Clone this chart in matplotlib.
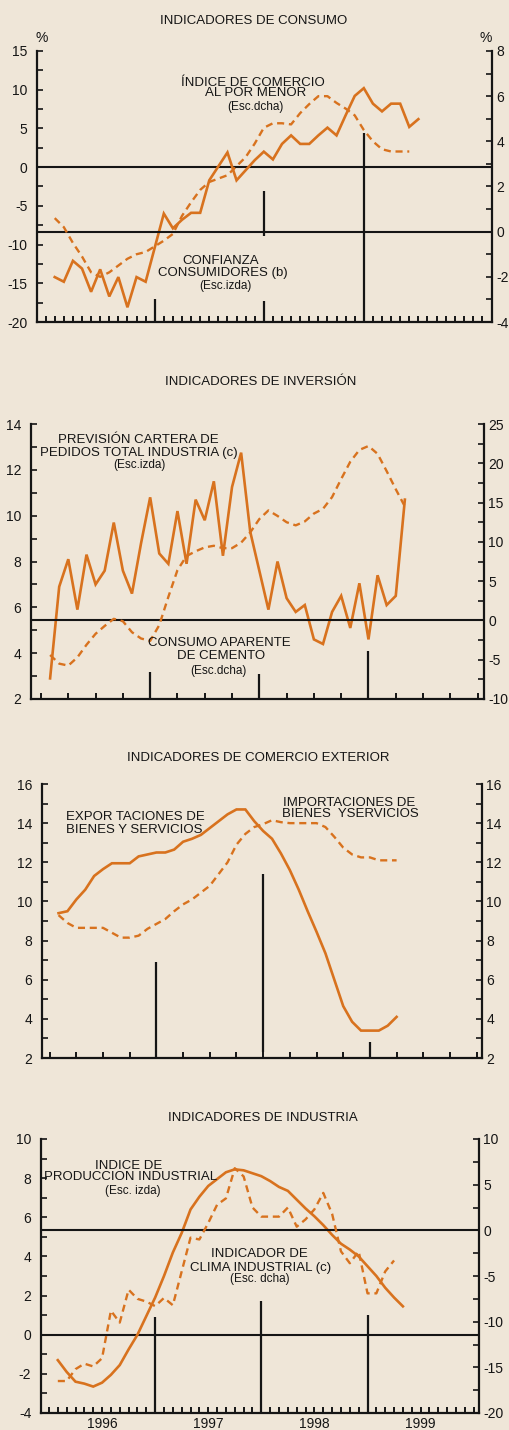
import numpy as np
import matplotlib.pyplot as plt
from matplotlib.ticker import MultipleLocator

plt.rcParams['font.family'] = ['Liberation Sans Narrow', 'Liberation Sans', 'DejaVu Sans']
plt.rcParams['axes.unicode_minus'] = False

FONDO = '#EFE6D8'
NARANJA = '#D8721E'
NEGRO = '#151515'

# ---- datos mensuales (x = meses desde enero de 1996) ----
# indicadores de consumo
confianza = [-14.2, -14.8, -12.1, -13.1, -16.1, -13.2, -16.7, -14.2, -18.1, -14.2,
             -14.8, -10.4, -6.0, -7.9, -6.8, -5.9, -5.9, -1.7, 0.1, 1.9,
             -1.7, -0.4, 0.9, 2.0, 1.0, 3.0, 4.1, 3.0, 3.0, 4.1,
             5.1, 4.1, 6.7, 9.2, 10.2, 8.2, 7.2, 8.2, 8.2, 5.2, 6.2]
comercio_menor = [0.6, 0.2, -0.5, -1.1, -1.8, -2.0, -1.8, -1.5, -1.2, -1.0,
                  -0.9, -0.65, -0.4, -0.1, 0.7, 1.3, 1.85, 2.2, 2.35, 2.5,
                  2.9, 3.3, 3.9, 4.6, 4.8, 4.8, 4.75, 5.25, 5.65, 6.0,
                  6.0, 5.7, 5.45, 5.15, 4.5, 4.0, 3.65, 3.55, 3.55, 3.55]
# indicadores de inversion
cartera_pedidos = [2.9, 6.9, 8.1, 5.9, 8.3, 7.0, 7.6, 9.7, 7.6, 6.6,
                   8.8, 10.8, 8.35, 7.9, 10.2, 7.9, 10.7, 9.8, 11.5, 8.25,
                   11.25, 12.75, 9.3, 7.6, 5.9, 8.0, 6.4, 5.8, 6.1, 4.6,
                   4.4, 5.8, 6.5, 5.1, 7.05, 4.6, 7.4, 6.1, 6.5, 10.7]
cemento = [-4.4, -5.5, -5.75, -4.7, -3.1, -1.7, -0.7, 0.2, -0.1, -1.5,
           -2.3, -2.6, -0.6, 3.0, 6.4, 8.2, 8.8, 9.3, 9.5, 9.2,
           9.2, 9.9, 11.2, 12.9, 14.0, 13.3, 12.5, 12.1, 12.6, 13.6,
           14.2, 15.7, 18.0, 20.2, 21.7, 22.2, 21.2, 19.0, 16.7, 14.5]
# indicadores de comercio exterior
exportaciones = [9.4, 9.5, 10.1, 10.6, 11.3, 11.65, 11.95, 11.95, 11.95, 12.3,
                 12.4, 12.5, 12.5, 12.65, 13.05, 13.2, 13.4, 13.75, 14.1, 14.45,
                 14.7, 14.7, 14.1, 13.6, 13.2, 12.45, 11.6, 10.6, 9.5, 8.45,
                 7.35, 6.0, 4.65, 3.85, 3.4, 3.4, 3.4, 3.65, 4.1]
importaciones = [9.3, 8.9, 8.65, 8.65, 8.65, 8.65, 8.4, 8.15, 8.15, 8.25,
                 8.6, 8.85, 9.1, 9.5, 9.85, 10.1, 10.45, 10.8, 11.4, 12.0,
                 12.9, 13.45, 13.8, 13.95, 14.15, 14.05, 14.0, 14.0, 14.0, 14.0,
                 13.8, 13.3, 12.75, 12.4, 12.25, 12.25, 12.1, 12.1, 12.1]
# indicadores de industria
produccion_ind = [-1.3, -1.9, -2.4, -2.5, -2.65, -2.45, -2.05, -1.55, -0.75, 0.0,
                  0.95, 1.9, 3.0, 4.2, 5.2, 6.4, 7.05, 7.6, 7.95, 8.3,
                  8.45, 8.4, 8.25, 8.1, 7.85, 7.55, 7.35, 6.9, 6.45, 6.05,
                  5.6, 5.1, 4.65, 4.35, 4.0, 3.5, 3.0, 2.4, 1.9, 1.45]
clima_ind = [-16.5, -16.5, -15.2, -14.6, -14.9, -14.0, -8.8, -10.1, -6.5, -7.5,
             -7.8, -8.3, -7.4, -8.2, -4.5, -0.8, -1.0, 0.8, 2.8, 3.5,
             6.8, 5.9, 2.5, 1.5, 1.5, 1.5, 2.5, 0.4, 1.2, 2.3,
             4.1, 1.8, -2.3, -3.6, -2.3, -6.9, -6.9, -4.5, -3.3]

anios = ['1996', '1997', '1998', '1999']

# separadores de año: (mes, desde, hasta) en escala izquierda
sep_consumo = [(12, -20, -17.0), (24, -20, -17.3), (24, -8.95, -3.1), (35, -20, 4.4)]
sep_inversion = [(12, 2, 3.2), (24, 2, 3.1), (36, 2, 4.1)]
sep_exterior = [(12, 2, 6.9), (24, 2.3, 11.4), (36, 2, 2.8)]
sep_industria = [(12, -4, 0.9), (24, -4, 1.7), (36, -4, 1.0)]

W, H = 509, 1430
fig = plt.figure(figsize=(W / 100, H / 100), dpi=100)
fig.patch.set_facecolor(FONDO)


def rect(x0, x1, y0, y1):
    # pixeles -> fraccion de figura
    return [x0 / W, 1 - y1 / H, (x1 - x0) / W, (y1 - y0) / H]


def texto(x, y, s, size=9, **kw):
    fig.text(x / W, 1 - y / H, s, fontsize=size, color=NEGRO,
             ha=kw.pop('ha', 'center'), va='center', **kw)


def panel(r, xlim, ylim1, ylim2, paso1, menor1, paso2, menor2, paso_x):
    ax = fig.add_axes(r)
    ax.set_facecolor('none')
    ax2 = ax.twinx()
    ax.set_xlim(*xlim)
    ax.set_ylim(*ylim1)
    ax2.set_ylim(*ylim2)
    ax.yaxis.set_major_locator(MultipleLocator(paso1))
    ax.yaxis.set_minor_locator(MultipleLocator(menor1))
    ax2.yaxis.set_major_locator(MultipleLocator(paso2))
    ax2.yaxis.set_minor_locator(MultipleLocator(menor2))
    ax.set_xticks(np.arange(0, 49, paso_x))
    ax.tick_params(axis='x', direction='in', length=4, width=1.4,
                   labelbottom=False, color=NEGRO)
    ax.tick_params(axis='y', which='both', direction='in', length=4, width=1.2,
                   labelsize=10, pad=7, color=NEGRO, labelcolor=NEGRO)
    ax2.tick_params(axis='y', which='both', direction='in', length=4, width=1.2,
                    labelsize=10, pad=3, color=NEGRO, labelcolor=NEGRO)
    for a in (ax, ax2):
        a.spines['top'].set_visible(False)
        for s in a.spines.values():
            s.set_linewidth(1.6)
            s.set_color(NEGRO)
    ax.spines['right'].set_visible(False)
    ax2.spines['left'].set_visible(False)
    ax2.spines['bottom'].set_visible(False)
    return ax, ax2


def separadores(ax, lista):
    for x, y0, y1 in lista:
        ax.vlines(x, y0, y1, color=NEGRO, lw=1.6, zorder=3)


def series(ax, ax2, izq, dcha):
    x1 = np.arange(1, len(izq) + 1)
    x2 = np.arange(1, len(dcha) + 1)
    ax.plot(x1, izq, color=NARANJA, lw=1.9, zorder=5, solid_joinstyle='miter')
    ax2.plot(x2, dcha, color=NARANJA, lw=1.7, ls=(0, (3, 2)), zorder=5)


# ---------------- INDICADORES DE CONSUMO ----------------
ax, ax2 = panel(rect(37, 492, 51, 322), (-0.95, 49.1), (-20, 15), (-4, 8),
                5, 2.5, 2, 1, 1)
ax.axhline(0, color=NEGRO, lw=1.5)
ax2.axhline(0, color=NEGRO, lw=1.5)
separadores(ax, sep_consumo)
series(ax, ax2, confianza, comercio_menor)
texto(254, 21, 'INDICADORES DE CONSUMO', 9.5)
texto(42, 38, '%', 10)
texto(486, 38, '%', 10)
texto(253, 83, 'ÍNDICE DE COMERCIO', 9.5)
texto(256, 93, 'AL POR MENOR', 9.5)
texto(255, 107, '(Esc.dcha)', 8.5)
texto(221, 261, 'CONFIANZA', 9.5)
texto(223, 273, 'CONSUMIDORES (b)', 9.5)
texto(225, 286, '(Esc.izda)', 8.5)

# ---------------- INDICADORES DE INVERSIÓN ----------------
ax, ax2 = panel(rect(31, 484, 424, 699), (-1.1, 48.7), (2, 14), (-10, 25),
                2, 1, 5, 2.5, 3)
ax2.axhline(0, color=NEGRO, lw=1.5)
separadores(ax, sep_inversion)
series(ax, ax2, cartera_pedidos, cemento)
texto(261, 382, 'INDICADORES DE INVERSIÓN', 9.5)
texto(138, 440, 'PREVISIÓN CARTERA DE', 9.5)
texto(139, 453, 'PEDIDOS TOTAL INDUSTRIA (c)', 9.5)
texto(139, 465, '(Esc.izda)', 8.5)
texto(219, 643, 'CONSUMO APARENTE', 9.5)
texto(221, 656, 'DE CEMENTO', 9.5)
texto(218, 671, '(Esc.dcha)', 8.5)

# ---------------- INDICADORES DE COMERCIO EXTERIOR ----------------
ax, ax2 = panel(rect(42, 482, 784, 1058), (-0.86, 48.6), (2, 16), (2, 16),
                2, 1, 2, 1, 3)
separadores(ax, sep_exterior)
series(ax, ax2, exportaciones, importaciones)
texto(258, 758, 'INDICADORES DE COMERCIO EXTERIOR', 9.5)
texto(66, 817, 'EXPOR TACIONES DE', 9.5, ha='left')
texto(66, 830, 'BIENES Y SERVICIOS', 9.5, ha='left')
texto(349, 803, 'IMPORTACIONES DE', 9.5)
texto(350, 814, 'BIENES  YSERVICIOS', 9.5)

# ---------------- INDICADORES DE INDUSTRIA ----------------
ax, ax2 = panel(rect(41, 479, 1139, 1413), (-0.9, 48.6), (-4, 10), (-20, 10),
                2, 1, 5, 2.5, 1)
ax.axhline(0, color=NEGRO, lw=1.5)
ax2.axhline(0, color=NEGRO, lw=1.5)
separadores(ax, sep_industria)
series(ax, ax2, produccion_ind, clima_ind)
for i, a in enumerate(anios):
    ax.text(6 + 12 * i, -0.015, a, transform=ax.get_xaxis_transform(),
            ha='center', va='top', fontsize=10, color=NEGRO)
texto(263, 1118, 'INDICADORES DE INDUSTRIA', 9.5)
texto(129, 1166, 'INDICE DE', 9.5)
texto(131, 1177, 'PRODUCCION INDUSTRIAL', 9.5)
texto(133, 1191, '(Esc. izda)', 8.5)
texto(259, 1254, 'INDICADOR DE', 9.5)
texto(261, 1268, 'CLIMA INDUSTRIAL (c)', 9.5)
texto(260, 1279, '(Esc. dcha)', 8.5)

plt.savefig('out.png', dpi=100, facecolor=FONDO)
